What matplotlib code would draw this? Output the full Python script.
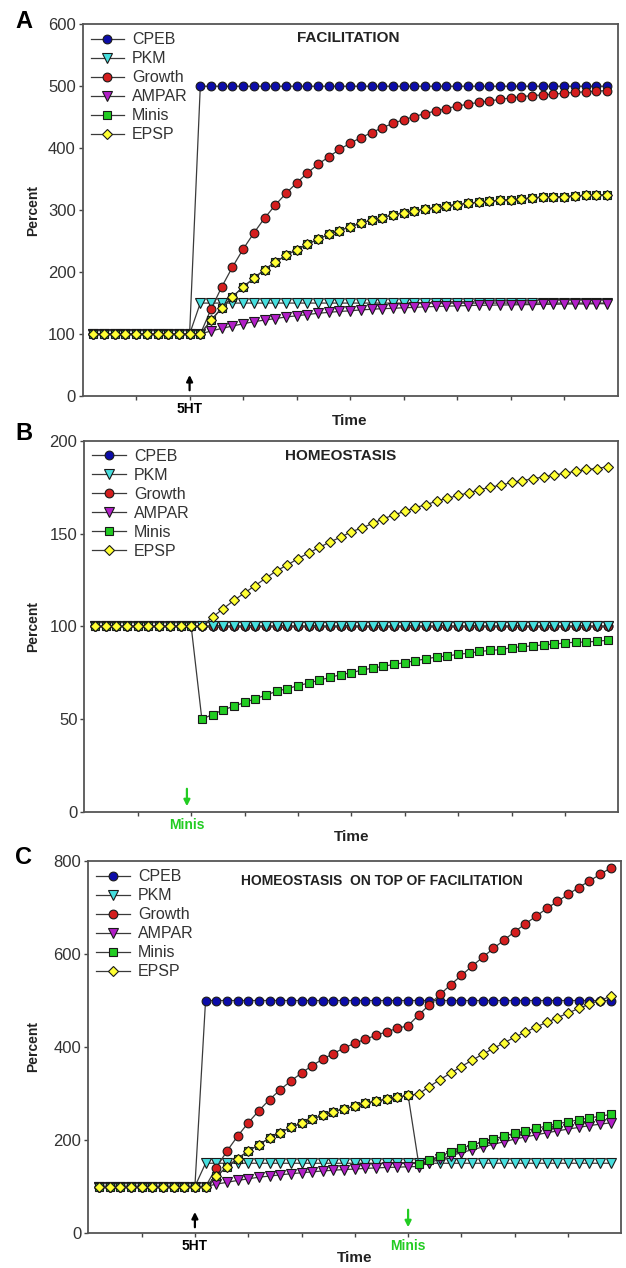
import matplotlib
matplotlib.use('Agg')
import matplotlib.pyplot as plt
import matplotlib.transforms as mtransforms

plt.rcParams['font.family'] = ['Liberation Sans', 'DejaVu Sans']

# ── time axis: one marker per step, axis runs 0..50 ─────────────────────
time = list(range(1, 50))
x_ticks = [5, 10, 15, 20, 25, 30, 35, 40, 45]

names = ['CPEB', 'PKM', 'Growth', 'AMPAR', 'Minis', 'EPSP']

# ── A: facilitation (5HT at t=10) ──────────────────────────────────────
cpeb_a = [100] * 10 + [500] * 39
pkm_a = [100] * 10 + [150] * 39
growth_a = [100] * 11 + [140, 176, 208, 237, 263, 287, 308, 327, 344, 360,
                         374, 386, 398, 408, 417, 425, 433, 440, 446, 451,
                         456, 460, 464, 468, 471, 474, 476, 479, 481, 483,
                         485, 486, 487, 489, 490, 491, 492, 493]
ampar_a = [100] * 11 + [105, 109, 113, 116.5, 120, 122.5, 125, 127.5, 129.5, 131.5,
                        133.5, 135, 136.5, 137.5, 139, 140, 141, 141.5, 142.5, 143,
                        144, 144.5, 145, 145.5, 146, 146.5, 146.5, 147, 147, 147.5,
                        147.5, 148, 148, 148.5, 148.5, 148.5, 149, 149]
epsp_a = [100] * 11 + [122, 142, 160, 176, 190, 204, 216, 227, 236, 245,
                       253, 261, 267, 273, 279, 284, 288, 292, 296, 299,
                       302, 304, 307, 309, 311, 313, 314, 316, 317, 318,
                       320, 321, 321, 322, 323, 324, 324, 325]
minis_a = list(epsp_a)  # sits under the EPSP markers

# ── B: homeostasis (minis halved at t=11) ─────────────────────────────
cpeb_b = [100] * 49
pkm_b = [100] * 49
growth_b = [100] * 49
ampar_b = [100] * 49
minis_b = [100] * 10 + [50, 52.5, 55, 57, 59, 61, 63, 65, 66.5, 68,
                        69.5, 71, 72.5, 74, 75, 76.5, 77.5, 78.5, 79.5, 80.5,
                        81.5, 82.5, 83.5, 84, 85, 85.5, 86.5, 87, 87.5, 88.5,
                        89, 89.5, 90, 90.5, 91, 91.5, 91.5, 92, 92.5]
epsp_b = [100] * 11 + [105, 109.5, 114, 118, 122, 126, 130, 133, 136.5, 139.5,
                       142.5, 145.5, 148, 151, 153, 155.5, 158, 160, 162, 164,
                       165.5, 167.5, 169, 170.5, 172, 173.5, 175, 176, 177.5, 178.5,
                       179.5, 180.5, 181.5, 182.5, 183.5, 184.5, 185, 186]

# ── C: homeostasis on top of facilitation ──────────────────────────────
cpeb_c = [100] * 10 + [500] * 39
pkm_c = [100] * 10 + [150] * 39
growth_c = [100] * 11 + [140, 176, 208, 237, 263, 287, 308, 327, 344, 360,
                         374, 386, 398, 408, 417, 425, 433, 440, 446,
                         469, 491, 513, 534, 554, 574, 593, 612, 630, 648,
                         665, 681, 698, 713, 728, 743, 757, 771, 785]
ampar_c = [100] * 11 + [105, 109, 113, 116.5, 120, 122.5, 125, 127.5, 129.5, 131.5,
                        133.5, 135, 136.5, 137.5, 139, 140, 141, 141.5, 142.5,
                        143, 151, 159, 166, 173, 179, 185, 191, 196, 202,
                        206.5, 211, 215.5, 219.5, 223.5, 227, 231, 234, 237]
epsp_c = [100] * 11 + [122, 142, 160, 176, 190, 204, 216, 227, 236, 245,
                       253, 261, 267, 273, 279, 284, 288, 292, 296,
                       299, 315, 330, 344, 358, 371.5, 384.5, 397, 409, 421,
                       432, 443, 453, 463, 473, 483, 492, 500, 509]
minis_c = epsp_c[:30] + [148, 157, 166, 174, 182, 189, 196, 202, 208.5, 214.5,
                         220, 225, 230, 235, 239, 243.5, 247.5, 251, 255]

STYLE = {
    'CPEB':   dict(marker='o', mfc='#0c0ca8', ms=6.3),
    'PKM':    dict(marker='v', mfc='#46dede', ms=6.5),
    'Growth': dict(marker='o', mfc='#d41e1e', ms=6.3),
    'AMPAR':  dict(marker='v', mfc='#b21ec8', ms=6.5),
    'Minis':  dict(marker='s', mfc='#22cc22', ms=5.6),
    'EPSP':   dict(marker='D', mfc='#ffff33', ms=5.2),
}

fig = plt.figure(figsize=(6.26, 12.68), dpi=100)
W, H = 626, 1268


def make_axes(left, right, top, bottom):
    return fig.add_axes([left / W, (H - bottom) / H, (right - left) / W, (bottom - top) / H])


def draw_panel(ax, series, ymax, ystep, title, title_xy, title_size, order=None):
    # order: which series lands on top (legend keeps the usual order)
    order = order or list(range(6))
    for z, i in enumerate(order):
        name, vals = names[i], series[i]
        st = STYLE[name]
        ax.plot(time, vals, color='#3a3a3a', lw=0.9, marker=st['marker'],
                ms=st['ms'], mfc=st['mfc'], mec='#1a1a1a', mew=0.8, label=name,
                zorder=2 + z * 0.1)
    ax.set_xlim(0, 50)
    ax.set_ylim(0, ymax)
    ax.set_yticks(range(0, ymax + 1, ystep))
    ax.set_xticks(x_ticks)
    ax.set_xticklabels([])
    ax.tick_params(direction='out', length=3, width=1, color='#444444',
                   labelsize=12, labelcolor='#333333', pad=2)
    for sp in ax.spines.values():
        sp.set_color('#555555')
        sp.set_linewidth(1.3)
    handles, labels = ax.get_legend_handles_labels()
    by_name = dict(zip(labels, handles))
    leg = ax.legend([by_name[n] for n in names], names, loc='upper left',
                    bbox_to_anchor=(0.015, 0.978), frameon=False,
                    fontsize=11.5, handlelength=2.1, handletextpad=0.5,
                    labelspacing=0.25, borderaxespad=0, borderpad=0, numpoints=1)
    for txt in leg.get_texts():
        txt.set_color('#333333')
    ax.text(title_xy[0], title_xy[1], title, transform=ax.transAxes,
            ha='center', va='center', fontsize=title_size, fontweight='bold', color='#222222')
    ax.text(0.5, -0.066, 'Time', transform=ax.transAxes, ha='center', va='center',
            fontsize=11, fontweight='bold', color='#222222')


def mark(ax, t, label, color, up):
    tr = mtransforms.blended_transform_factory(ax.transData, ax.transAxes)
    if up:
        ax.annotate('', xy=(t, 0.064), xytext=(t, 0.008), xycoords=tr, textcoords=tr,
                    arrowprops=dict(arrowstyle='-|>', color=color, lw=1.6, mutation_scale=9))
    else:
        ax.annotate('', xy=(t, 0.008), xytext=(t, 0.07), xycoords=tr, textcoords=tr,
                    arrowprops=dict(arrowstyle='-|>', color=color, lw=1.6, mutation_scale=9))
    ax.text(t, -0.034, label, transform=tr, ha='center', va='center',
            fontsize=10, fontweight='bold', color=color)


ax_a = make_axes(82.6, 617.6, 24.3, 396)
draw_panel(ax_a, [cpeb_a, pkm_a, growth_a, ampar_a, minis_a, epsp_a],
           600, 100, 'FACILITATION', (0.497, 0.963), 11)
mark(ax_a, 10, '5HT', 'black', True)

ax_b = make_axes(84.4, 618.3, 440.7, 812)
# in B the PKM markers show on the 100 % line
draw_panel(ax_b, [cpeb_b, pkm_b, growth_b, ampar_b, minis_b, epsp_b],
           200, 50, 'HOMEOSTASIS', (0.48, 0.958), 11, order=[0, 2, 3, 1, 4, 5])
mark(ax_b, 9.6, 'Minis', '#22cc22', False)

ax_c = make_axes(88.3, 621.3, 861, 1233)
draw_panel(ax_c, [cpeb_c, pkm_c, growth_c, ampar_c, minis_c, epsp_c],
           800, 200, 'HOMEOSTASIS  ON TOP OF FACILITATION', (0.55, 0.946), 10)
mark(ax_c, 10, '5HT', 'black', True)
mark(ax_c, 30, 'Minis', '#22cc22', False)

# y labels and panel letters
for ax, letter, ly in [(ax_a, 'A', 22), (ax_b, 'B', 433), (ax_c, 'C', 857)]:
    pos = ax.get_position()
    fig.text(33 / W, pos.y0 + pos.height / 2, 'Percent', rotation=90, ha='center',
             va='center', fontsize=10, fontweight='bold', color='#222222')
    fig.text(24 / W, (H - ly) / H, letter, ha='center', va='center',
             fontsize=17, fontweight='bold', color='black')

fig.savefig('out.png', dpi=100)
